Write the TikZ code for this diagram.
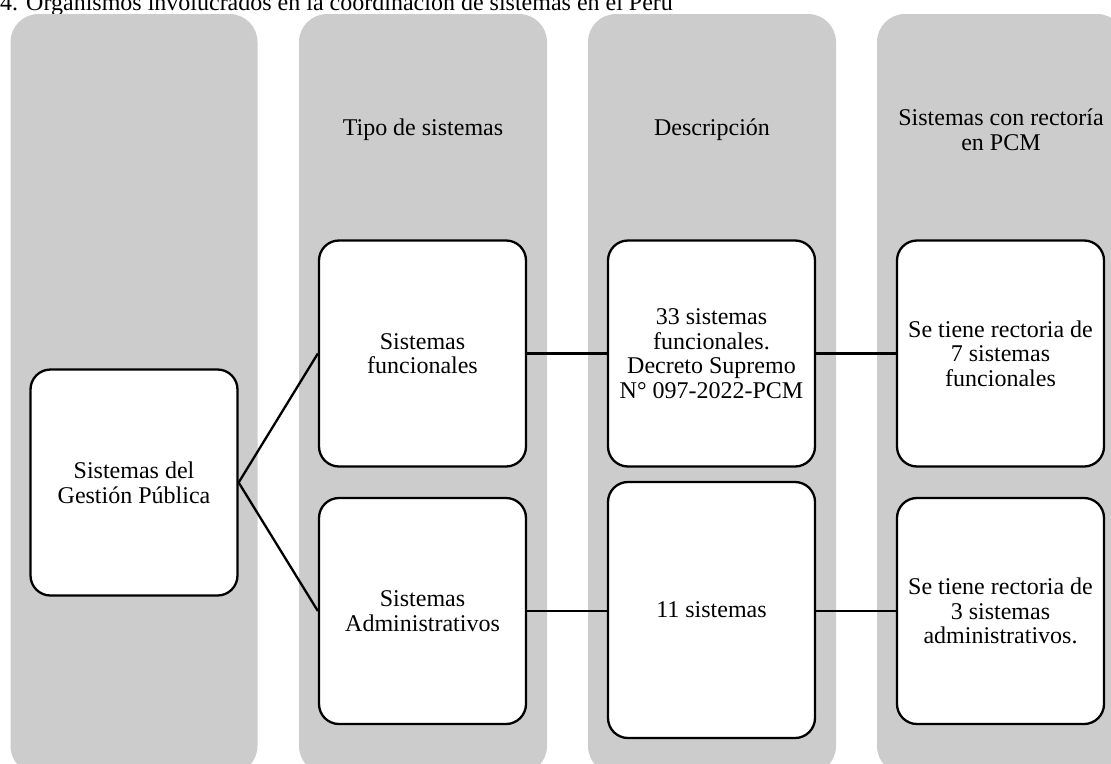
\documentclass[tikz,border=0pt]{standalone}
\usepackage{fontspec}
\setmainfont{Liberation Serif}
\definecolor{columnfill}{RGB}{204,204,204}
\newcommand\bodyfont{\fontsize{24}{24.6}\selectfont}
\begin{document}
\begin{tikzpicture}[x=1pt,y=-1pt,
  column/.style={fill=columnfill, rounded corners=28pt},
  card/.style={draw=black, line width=2.3pt, fill=white, rounded corners=20pt,
    minimum width=207pt, minimum height=226pt, inner sep=0pt,
    align=center, font=\bodyfont},
  header/.style={align=center, inner sep=0pt, font=\bodyfont},
  link/.style={draw=black, line width=2.3pt}]
\useasboundingbox (0,0) rectangle (1111,763);
\clip (0,0) rectangle (1111,763);

% caption line
\node[anchor=base west, inner sep=0pt, font=\bodyfont] (title) at (0,10)
  {4. Organismos involucrados en la coordinación de sistemas en el Perú};

% grey columns
\fill[column] (10.5,14) rectangle (257.5,774);
\fill[column] (299,14) rectangle (547,774);
\fill[column] (588,14) rectangle (836,774);
\fill[column] (877,14) rectangle (1125,774);

% column headings
\node[header] (h2) at (423,130) {Tipo de sistemas};
\node[header] (h3) at (712,130) {Descripción};
\node[header] (h4) at (1001,130) {Sistemas con rectoría\\en PCM};

% cards
\node[card] (gestion) at (134,482.5) {Sistemas del\\Gestión Pública};
\node[card] (sf) at (422.5,353.5) {Sistemas\\funcionales};
\node[card] (sa) at (422.5,611) {Sistemas\\Administrativos};
\node[card] (d1) at (711.5,353.5) {33 sistemas\\funcionales.\\Decreto Supremo\\N° 097-2022-PCM};
\node[card, minimum height=256pt] (d2) at (711.5,610) {11 sistemas};
\node[card] (r1) at (1000.5,353.5) {Se tiene rectoria de\\7 sistemas\\funcionales};
\node[card] (r2) at (1000.5,611) {Se tiene rectoria de\\3 sistemas\\administrativos.};

% connectors
\draw[link] (gestion.east) -- (sf.west);
\draw[link] (gestion.east) -- (sa.west);
\draw[link] (sf.east) -- (d1.west);
\draw[link] (d1.east) -- (r1.west);
\draw[link] (sa.east) -- (sa.east -| d2.west);
\draw[link] (r2.west -| d2.east) -- (r2.west);
\end{tikzpicture}
\end{document}
